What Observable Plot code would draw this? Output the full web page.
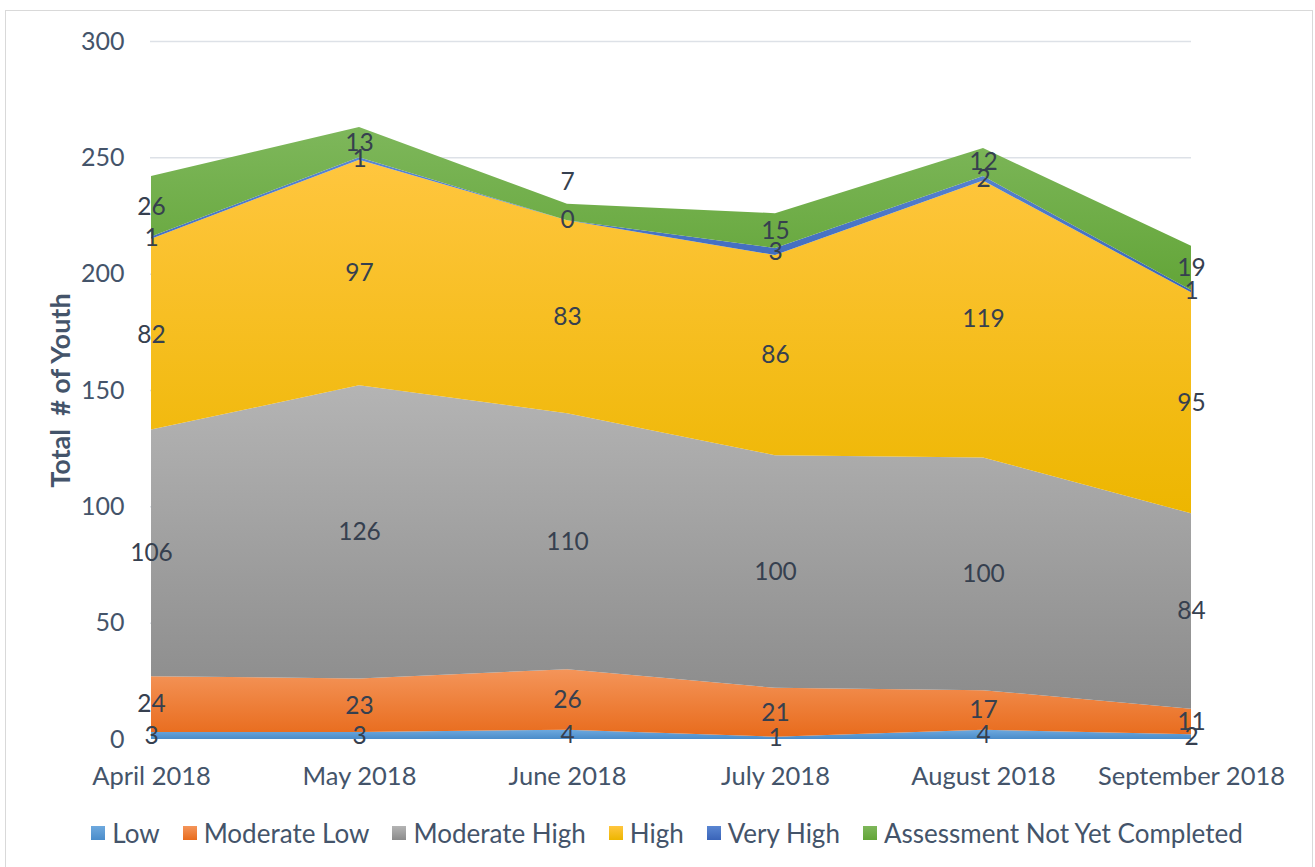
<!DOCTYPE html>
<html><head><meta charset="utf-8">
<script src="https://cdn.jsdelivr.net/npm/d3@7"></script>
<script src="https://cdn.jsdelivr.net/npm/@observablehq/plot@0.6"></script>
<style>
body{margin:0;background:#fff;font-family:Lato,"Open Sans",sans-serif;}
#frame{position:absolute;left:5px;top:10px;width:1306px;height:880px;border:1px solid #d9d9d9;background:#fff;}
#legend{display:flex;justify-content:center;align-items:center;gap:23px;margin-top:17px;padding-left:16px;font-size:26px;color:#44546a;line-height:30px;}
#legend .it{display:flex;align-items:center;gap:7px;}
#legend .sw{width:14px;height:14px;display:inline-block;}
</style></head>
<body>
<div id="frame"><div id="chart"></div><div id="legend"></div></div>
<script>
const months = ["April 2018","May 2018","June 2018","July 2018","August 2018","September 2018"];
const seriesNames = ["Low","Moderate Low","Moderate High","High","Very High","Assessment Not Yet Completed"];
const low          = [3, 3, 4, 1, 4, 2];
const moderateLow  = [24, 23, 26, 21, 17, 11];
const moderateHigh = [106, 126, 110, 100, 100, 84];
const high         = [82, 97, 83, 86, 119, 95];
const veryHigh     = [1, 1, 0, 3, 2, 1];
const notCompleted = [26, 13, 7, 15, 12, 19];
const yTicks = [0, 50, 100, 150, 200, 250, 300];
const gridTicks = [50, 100, 150, 200, 250, 300];

const values = [low, moderateLow, moderateHigh, high, veryHigh, notCompleted];
const gradients = [
  ["#6ea9de", "#4a8cca"],
  ["#f4955a", "#e86b1c"],
  ["#b4b4b4", "#8b8b8b"],
  ["#ffc63f", "#edb600"],
  ["#5a86d2", "#3a64b8"],
  ["#7eb75b", "#63a538"]
];

const rows = seriesNames.flatMap((s, k) => months.map((m, i) => ({month: m, series: s, value: values[k][i]})));
const labels = [];
months.forEach((m, i) => {
  let cum = 0;
  seriesNames.forEach((s, k) => {
    const v = values[k][i];
    labels.push({month: m, series: s, value: v, mid: cum + v / 2});
    cum += v;
  });
});
const isShifted = d => d.series === "Assessment Not Yet Completed" && d.month === "June 2018";

const plot = Plot.plot({
  width: 1306,
  height: 790,
  marginLeft: 144,
  marginRight: 121,
  marginTop: 30,
  marginBottom: 62,
  style: {fontFamily: "Lato, 'Open Sans', sans-serif", fontSize: "25px", color: "#44546a", background: "transparent"},
  x: {type: "point", domain: months, padding: 0},
  y: {domain: [0, 300]},
  color: {domain: seriesNames, range: seriesNames.map((s, k) => `url(#grad${k})`)},
  marks: [
    Plot.ruleY(gridTicks, {stroke: "#dde1e7", strokeWidth: 1.5}),
    Plot.areaY(rows, {x: "month", y: "value", z: "series", fill: "series", order: seriesNames, curve: "linear"}),
    Plot.text(labels.filter(d => !isShifted(d)), {x: "month", y: "mid", text: d => String(d.value), fontSize: 24.5, fill: "#36404f"}),
    Plot.text(labels.filter(isShifted), {x: "month", y: "mid", text: d => String(d.value), fontSize: 24.5, fill: "#36404f", dy: -30}),
    Plot.axisX({tickSize: 0, tickPadding: 27, label: null, fontSize: 25.5}),
    Plot.axisY({ticks: yTicks, tickSize: 0, tickPadding: 26, fontSize: 25, label: "Total\u00a0 # of Youth", labelAnchor: "center", labelOffset: 100, labelArrow: "none"})
  ]
});

const svg = d3.select(plot);
const defs = svg.insert("defs", ":first-child");
gradients.forEach((g, k) => {
  const lg = defs.append("linearGradient").attr("id", `grad${k}`).attr("x1", 0).attr("y1", 0).attr("x2", 0).attr("y2", 1);
  lg.append("stop").attr("offset", "0%").attr("stop-color", g[0]);
  lg.append("stop").attr("offset", "100%").attr("stop-color", g[1]);
});
svg.selectAll('[aria-label="y-axis label"]').attr("font-weight", "bold").attr("font-size", 27).attr("fill", "#44546a");
document.getElementById("chart").appendChild(plot);

const legend = d3.select("#legend");
seriesNames.forEach((s, k) => {
  const it = legend.append("div").attr("class", "it");
  it.append("span").attr("class", "sw").style("background", `linear-gradient(${gradients[k][0]}, ${gradients[k][1]})`);
  it.append("span").text(s);
});
</script>
</body></html>
